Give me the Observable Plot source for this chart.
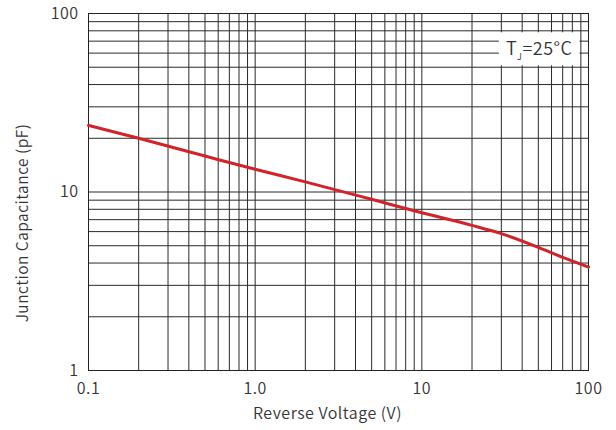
<!DOCTYPE html>
<html>
<head>
<meta charset="utf-8">
<script src="https://cdn.jsdelivr.net/npm/d3@7"></script>
<script src="https://cdn.jsdelivr.net/npm/@observablehq/plot@0.6"></script>
<style>
  html, body { margin: 0; padding: 0; background: #fff; }
  #chart svg { display: block; }
  #chart svg text { letter-spacing: 0.5px; font-weight: 350; }
</style>
</head>
<body>
<div id="chart"></div>
<script>
// Data
const voltage = [0.1, 0.2, 0.5, 1, 2, 5, 10, 20, 30, 50, 70, 100];
const capacitance = [23.6, 20.0, 15.9, 13.4, 11.4, 9.1, 7.65, 6.5, 5.85, 4.9, 4.3, 3.8];

const xTicks = [0.1, 1, 10, 100];
const xTickLabels = ["0.1", "1.0", "10", "100"];
const yTicks = [1, 10, 100];
const yTickLabels = ["1", "10", "100"];

const xGrid = [0.1,0.2,0.3,0.4,0.5,0.6,0.7,0.8,0.9,1,2,3,4,5,6,7,8,9,10,20,30,40,50,60,70,80,90,100];
const yGrid = [1,2,3,4,5,6,7,8,9,10,20,30,40,50,60,70,80,90,100];

const data = voltage.map((v, i) => ({v, c: capacitance[i]}));
const font = "'Noto Sans CJK SC', 'Noto Sans', sans-serif";

const plot = Plot.plot({
  width: 616,
  height: 430,
  marginLeft: 88,
  marginRight: 28,
  marginTop: 13,
  marginBottom: 60,
  style: {fontFamily: font, fontSize: "16px", color: "#333", background: "#fff"},
  x: {type: "log", domain: [0.1, 100]},
  y: {type: "log", domain: [1, 100]},
  marks: [
    Plot.ruleX(xGrid, {stroke: "#2a2a2a", strokeWidth: 1}),
    Plot.ruleY(yGrid, {stroke: "#2a2a2a", strokeWidth: 1}),
    Plot.frame({stroke: "#222", strokeWidth: 1}),
    Plot.line(data, {x: "v", y: "c", stroke: "#d2232a", strokeWidth: 3, curve: "monotone-x"}),
    Plot.axisX({ticks: xTicks, tickFormat: d => xTickLabels[xTicks.indexOf(d)], tickSize: 0, tickPadding: 12, fontSize: 16, label: null}),
    Plot.axisY({ticks: yTicks, tickFormat: d => yTickLabels[yTicks.indexOf(d)], tickSize: 0, tickPadding: 10, fontSize: 16, label: null}),
    Plot.text(["Reverse Voltage (V)"], {frameAnchor: "bottom", dy: 48, dx: -11, textAnchor: "middle", fontSize: 16, fill: "#333"}),
    Plot.text(["Junction Capacitance (pF)"], {frameAnchor: "left", rotate: -90, dx: -65, dy: 31, textAnchor: "middle", fontSize: 15.5, fill: "#333"}),
    Plot.text(["TJ=25°C"], {frameAnchor: "top-right", dx: -16, dy: 29, textAnchor: "end", fontSize: 18, fill: "#333", className: "tj-label"})
  ]
});

document.getElementById("chart").appendChild(plot);

// Subscript J and white background box for the temperature label
const svg = d3.select(plot);
const t = svg.select(".tj-label text");
t.text(null);
t.append("tspan").text("T");
t.append("tspan").text("J").attr("font-size", 9).attr("dy", 5);
t.append("tspan").text("=25°C").attr("dy", -5);
const node = t.node();
const bb = node.getBBox();
const g = d3.select(node.parentNode);
g.insert("rect", "text")
  .attr("transform", t.attr("transform"))
  .attr("x", bb.x - 7).attr("y", bb.y - 2)
  .attr("width", bb.width + 14).attr("height", bb.height + 4)
  .attr("fill", "#fff");
</script>
</body>
</html>
